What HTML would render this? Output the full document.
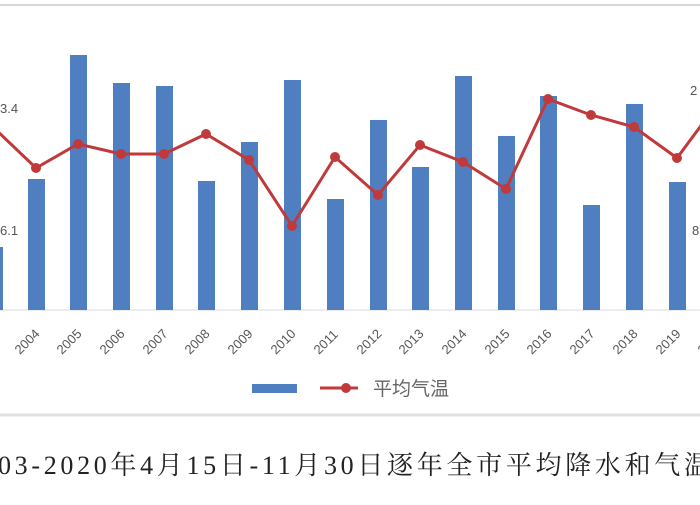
<!DOCTYPE html>
<html><head><meta charset="utf-8"><style>
body{margin:0;background:#fff;width:700px;height:500px;overflow:hidden;}
</style></head><body>
<svg width="700" height="500" xmlns="http://www.w3.org/2000/svg" font-family="Liberation Sans, Noto Sans CJK SC, sans-serif">
<line x1="0" y1="5" x2="700" y2="5" stroke="#d9d9d9" stroke-width="2"/>
<line x1="0" y1="415" x2="700" y2="415" stroke="#e0e0e0" stroke-width="3"/>
<line x1="0" y1="310" x2="700" y2="310" stroke="#d9d9d9" stroke-width="1"/>
<g fill="#4f7fc0">
<rect x="-14" y="247" width="17" height="63"/>
<rect x="28" y="179" width="17" height="131"/>
<rect x="70" y="55" width="17" height="255"/>
<rect x="113" y="83" width="17" height="227"/>
<rect x="156" y="86" width="17" height="224"/>
<rect x="198" y="181" width="17" height="129"/>
<rect x="241" y="142" width="17" height="168"/>
<rect x="284" y="80" width="17" height="230"/>
<rect x="327" y="199" width="17" height="111"/>
<rect x="370" y="120" width="17" height="190"/>
<rect x="412" y="167" width="17" height="143"/>
<rect x="455" y="76" width="17" height="234"/>
<rect x="498" y="136" width="17" height="174"/>
<rect x="540" y="96" width="17" height="214"/>
<rect x="583" y="205" width="17" height="105"/>
<rect x="626" y="104" width="17" height="206"/>
<rect x="669" y="182" width="17" height="128"/>
</g>
<polyline fill="none" stroke="#c0393b" stroke-width="3" points="-6,128 36,168 78,144 121,154 164,154 206,134 249,160 292,226 335,157 378,195 420,145 463,162 506,189 548,99 591,115 634,127 677,158 720,100"/>
<g fill="#c0393b">
<circle cx="36" cy="168" r="5"/><circle cx="78" cy="144" r="5"/><circle cx="121" cy="154" r="5"/><circle cx="164" cy="154" r="5"/><circle cx="206" cy="134" r="5"/><circle cx="249" cy="160" r="5"/><circle cx="292" cy="226" r="5"/><circle cx="335" cy="157" r="5"/><circle cx="378" cy="195" r="5"/><circle cx="420" cy="145" r="5"/><circle cx="463" cy="162" r="5"/><circle cx="506" cy="189" r="5"/><circle cx="548" cy="99" r="5"/><circle cx="591" cy="115" r="5"/><circle cx="634" cy="127" r="5"/><circle cx="677" cy="158" r="5"/>
</g>
<g font-size="13" fill="#555">
<text x="0" y="113">3.4</text>
<text x="0" y="235">6.1</text>
<text x="690" y="95">2</text>
<text x="692" y="235">8</text>
</g>
<g font-size="13" fill="#555">
<text transform="translate(20,355) rotate(-45)">2004</text>
<text transform="translate(62,355) rotate(-45)">2005</text>
<text transform="translate(105,355) rotate(-45)">2006</text>
<text transform="translate(148,355) rotate(-45)">2007</text>
<text transform="translate(190,355) rotate(-45)">2008</text>
<text transform="translate(233,355) rotate(-45)">2009</text>
<text transform="translate(276,355) rotate(-45)">2010</text>
<text transform="translate(319,355) rotate(-45)">2011</text>
<text transform="translate(362,355) rotate(-45)">2012</text>
<text transform="translate(404,355) rotate(-45)">2013</text>
<text transform="translate(447,355) rotate(-45)">2014</text>
<text transform="translate(490,355) rotate(-45)">2015</text>
<text transform="translate(532,355) rotate(-45)">2016</text>
<text transform="translate(575,355) rotate(-45)">2017</text>
<text transform="translate(618,355) rotate(-45)">2018</text>
<text transform="translate(661,355) rotate(-45)">2019</text>
<text transform="translate(703,355) rotate(-45)">2020</text>
</g>
<rect x="252" y="384" width="45" height="9" fill="#4f7fc0"/>
<line x1="320" y1="388" x2="358" y2="388" stroke="#c0393b" stroke-width="3"/>
<circle cx="346" cy="388" r="5" fill="#c0393b"/>
<text x="373" y="395" font-size="19" fill="#666">平均气温</text>
<text x="-2" y="474" font-size="26" fill="#222" font-family="Liberation Serif, Noto Serif CJK SC, serif" textLength="712" lengthAdjust="spacing">03-2020年4月15日-11月30日逐年全市平均降水和气温</text>
</svg>
</body></html>
